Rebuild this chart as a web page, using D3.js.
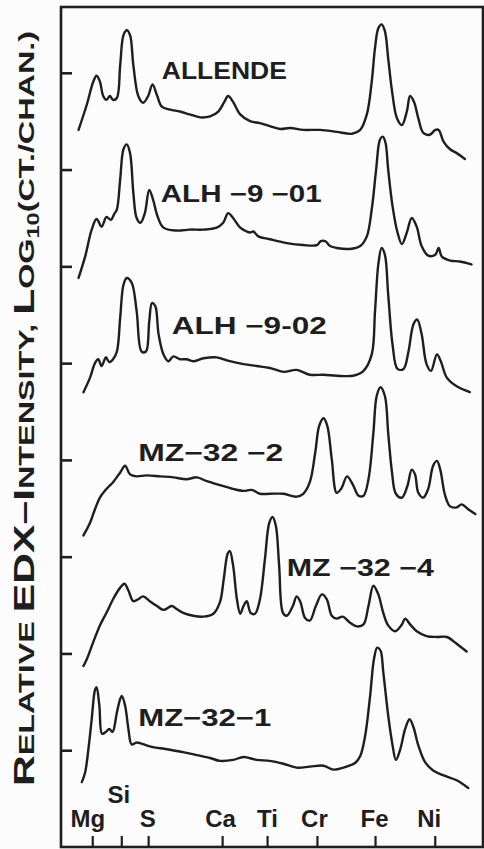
<!DOCTYPE html>
<html>
<head>
<meta charset="utf-8">
<script src="https://cdn.jsdelivr.net/npm/d3@7"></script>
<style>
  body { margin: 0; background: #fcfcfc; }
  svg { display: block; }
  text { font-family: "Liberation Sans", Arial, sans-serif; fill: #1e1e1e; }
</style>
</head>
<body>
<div id="chart"></div>
<script>
// energy (keV) and log10 intensity (offset per spectrum, decades)
var allendeKeV = [1.02,1.17,1.29,1.35,1.41,1.47,1.53,1.59,1.65,1.72,1.78,1.84,1.90,1.96,2.02,2.11,2.20,2.29,2.37,2.45,2.54,2.69,2.87,3.05,3.24,3.42,3.57,3.68,3.75,3.84,3.97,4.15,4.33,4.51,4.70,4.88,5.12,5.43,5.73,6.01,6.16,6.28,6.37,6.43,6.49,6.55,6.61,6.67,6.74,6.83,6.92,7.01,7.07,7.14,7.22,7.31,7.43,7.53,7.59,7.68,7.80,7.92,8.07];
var allendeLog = [6.41,6.67,6.91,6.97,6.91,6.76,6.72,6.76,6.72,6.74,7.08,7.39,7.44,7.39,7.08,6.76,6.69,6.76,6.88,6.77,6.65,6.62,6.60,6.57,6.54,6.55,6.60,6.70,6.76,6.70,6.57,6.50,6.48,6.45,6.42,6.43,6.41,6.41,6.39,6.37,6.41,6.57,6.91,7.26,7.46,7.50,7.43,7.15,6.81,6.53,6.46,6.60,6.76,6.70,6.53,6.38,6.36,6.41,6.41,6.29,6.21,6.17,6.11];

var alh901KeV = [1.02,1.14,1.26,1.35,1.44,1.53,1.61,1.67,1.72,1.78,1.84,1.90,1.96,2.02,2.08,2.15,2.23,2.31,2.38,2.46,2.57,2.81,3.05,3.30,3.54,3.66,3.75,3.84,3.97,4.09,4.15,4.21,4.30,4.51,4.82,5.12,5.37,5.44,5.52,5.61,5.73,5.97,6.16,6.28,6.37,6.45,6.52,6.57,6.62,6.67,6.75,6.84,6.92,7.01,7.10,7.19,7.28,7.40,7.53,7.59,7.65,7.80,7.98,8.19];
var alh901Log = [4.88,5.10,5.38,5.49,5.41,5.51,5.48,5.54,5.59,5.90,6.21,6.26,6.17,5.76,5.50,5.45,5.55,5.79,5.69,5.52,5.40,5.37,5.38,5.38,5.40,5.45,5.55,5.50,5.40,5.36,5.35,5.36,5.31,5.28,5.24,5.22,5.22,5.26,5.26,5.21,5.19,5.18,5.21,5.31,5.59,6.00,6.31,6.34,6.28,6.00,5.62,5.35,5.23,5.35,5.50,5.41,5.21,5.11,5.12,5.19,5.10,5.06,5.05,5.02];

var alh902KeV = [1.11,1.23,1.32,1.38,1.44,1.52,1.58,1.65,1.72,1.78,1.84,1.90,1.99,2.08,2.17,2.25,2.31,2.36,2.42,2.48,2.57,2.66,2.75,2.87,2.99,3.11,3.30,3.54,3.78,4.03,4.27,4.51,4.76,5.00,5.24,5.49,5.73,6.03,6.22,6.37,6.43,6.49,6.55,6.61,6.67,6.75,6.84,6.95,7.04,7.13,7.20,7.28,7.37,7.45,7.56,7.63,7.74,7.92,8.16];
var alh902Log = [3.70,3.85,4.00,4.04,3.97,4.06,4.01,4.04,4.12,4.47,4.81,4.88,4.83,4.54,4.12,4.12,4.43,4.62,4.59,4.30,4.09,4.02,4.07,4.04,4.04,4.02,4.05,4.06,4.02,3.99,3.97,3.95,3.91,3.93,3.88,3.88,3.87,3.87,3.92,4.09,4.54,5.02,5.19,5.12,4.71,4.19,3.94,3.94,4.12,4.40,4.45,4.30,3.99,3.92,4.09,4.02,3.85,3.76,3.70];

var mz322KeV = [1.11,1.23,1.32,1.41,1.53,1.65,1.78,1.87,1.96,2.08,2.26,2.51,2.75,2.99,3.18,3.36,3.60,3.84,4.03,4.18,4.33,4.51,4.76,5.00,5.12,5.24,5.34,5.41,5.49,5.56,5.64,5.73,5.82,5.92,6.02,6.13,6.22,6.31,6.40,6.46,6.53,6.61,6.67,6.74,6.81,6.92,7.02,7.10,7.16,7.22,7.31,7.40,7.49,7.56,7.62,7.71,7.80,7.92,8.01,8.13,8.26];
var mz322Log = [2.22,2.35,2.49,2.61,2.70,2.77,2.87,2.94,2.85,2.83,2.84,2.83,2.82,2.80,2.82,2.78,2.74,2.70,2.68,2.69,2.65,2.65,2.65,2.62,2.65,2.77,3.08,3.35,3.43,3.35,3.01,2.66,2.71,2.83,2.75,2.63,2.63,2.80,3.28,3.66,3.75,3.66,3.28,2.87,2.65,2.61,2.73,2.90,2.85,2.66,2.61,2.70,2.94,2.99,2.90,2.63,2.52,2.51,2.54,2.49,2.44];

var mz324KeV = [1.11,1.17,1.29,1.41,1.53,1.65,1.78,1.86,1.93,2.02,2.11,2.20,2.32,2.45,2.57,2.72,2.81,2.93,3.11,3.30,3.48,3.60,3.67,3.74,3.78,3.84,3.91,3.97,4.03,4.09,4.16,4.24,4.33,4.42,4.50,4.56,4.62,4.68,4.75,4.82,4.93,5.00,5.07,5.15,5.24,5.35,5.46,5.55,5.64,5.73,5.84,5.97,6.10,6.22,6.31,6.40,6.49,6.58,6.67,6.80,6.92,6.98,7.07,7.19,7.37,7.56,7.74,7.92,8.10];
var mz324Log = [0.87,0.94,1.12,1.29,1.42,1.56,1.68,1.72,1.65,1.54,1.56,1.59,1.54,1.49,1.45,1.49,1.46,1.42,1.39,1.38,1.41,1.53,1.77,2.03,2.06,1.91,1.56,1.41,1.49,1.54,1.42,1.41,1.56,1.97,2.35,2.41,2.32,1.91,1.42,1.39,1.49,1.59,1.53,1.37,1.34,1.49,1.61,1.56,1.39,1.36,1.38,1.32,1.28,1.30,1.49,1.70,1.61,1.42,1.29,1.23,1.30,1.36,1.30,1.23,1.18,1.17,1.17,1.10,1.02];

var mz321KeV = [1.08,1.14,1.20,1.26,1.32,1.35,1.40,1.45,1.52,1.58,1.64,1.72,1.78,1.81,1.87,1.93,1.99,2.08,2.32,2.63,2.93,3.18,3.42,3.60,3.84,4.03,4.27,4.51,4.76,5.00,5.24,5.49,5.67,5.85,6.07,6.16,6.25,6.34,6.41,6.47,6.53,6.58,6.67,6.75,6.81,6.89,6.98,7.06,7.13,7.22,7.34,7.49,7.68,7.92,8.13];
var mz321Log = [-0.33,-0.23,0.01,0.32,0.62,0.65,0.46,0.17,0.19,0.22,0.19,0.39,0.53,0.56,0.46,0.22,0.06,0.08,0.04,0.01,-0.02,-0.05,-0.08,-0.11,-0.10,-0.07,-0.10,-0.11,-0.14,-0.18,-0.17,-0.16,-0.20,-0.18,-0.13,-0.06,0.15,0.56,0.94,1.06,1.03,0.81,0.36,0.05,-0.10,0.01,0.22,0.32,0.24,0.05,-0.12,-0.21,-0.26,-0.31,-0.39];

var sampleNames = ["ALLENDE", "ALH \u22129 \u221201", "ALH \u22129-02", "MZ\u221232 \u22122", "MZ \u221232 \u22124", "MZ\u221232\u22121"];
var elementNames = ["Mg", "Si", "S", "Ca", "Ti", "Cr", "Fe", "Ni"];
var elementKeV = [1.27, 1.80, 2.29, 3.64, 4.46, 5.37, 6.43, 7.52];
var decadeTicks = [0, 1, 2, 3, 4, 5, 6, 7];

var spectra = [
  d3.zip(allendeKeV, allendeLog),
  d3.zip(alh901KeV, alh901Log),
  d3.zip(alh902KeV, alh902Log),
  d3.zip(mz322KeV, mz322Log),
  d3.zip(mz324KeV, mz324Log),
  d3.zip(mz321KeV, mz321Log)
];

const width = 484;
const height = 849;
const margin = {top: 7, right: 1, bottom: 2, left: 61};
const ink = "#1e1e1e";

// label anchors, in data units, and their printed widths
var labelPos = [[2.54, 6.94, 125], [2.52, 5.66, 161], [2.72, 4.30, 155],
                [2.11, 2.99, 145], [4.82, 1.80, 147], [2.11, 0.25, 133]];

var svg = d3.select("#chart").append("svg")
  .attr("width", width)
  .attr("height", height);

var x = d3.scaleLinear()
  .domain([0.7, 8.4])
  .range([margin.left, width - margin.right]);

var y = d3.scaleLinear()
  .domain([-1, 7.68])
  .range([height - margin.bottom, margin.top]);

/* frame */
svg.append("rect")
  .attr("x", margin.left)
  .attr("y", margin.top)
  .attr("width", width - margin.right - margin.left)
  .attr("height", height - margin.bottom - margin.top)
  .attr("fill", "none")
  .attr("stroke", ink)
  .attr("stroke-width", 2.6);

/* left ticks, one per decade */
var yAxis = svg.append("g")
  .attr("transform", `translate(${margin.left}, 0)`)
  .call(d3.axisRight(y).tickValues(decadeTicks).tickSize(11).tickFormat(""));
yAxis.select(".domain").remove();
yAxis.selectAll("line").attr("stroke", ink).attr("stroke-width", 2.6);

/* bottom ticks with element names */
var labelNudge = [[-5, 0], [-3, -24], [-1, 0], [-2, 0], [0, 0], [-3, 0], [-1, 0], [-6, 0]];
var xAxis = svg.append("g")
  .attr("transform", `translate(0, ${height - margin.bottom})`)
  .call(d3.axisTop(x).tickValues(elementKeV).tickSize(11).tickPadding(9)
    .tickFormat((d, i) => elementNames[i]));
xAxis.select(".domain").remove();
xAxis.selectAll("line").attr("stroke", ink).attr("stroke-width", 2.2);
xAxis.selectAll("text")
  .attr("font-size", 24)
  .attr("font-weight", "bold")
  .attr("fill", ink)
  .attr("dx", (d, i) => labelNudge[i][0])
  .attr("dy", (d, i) => labelNudge[i][1]);

/* spectra */
var line = d3.line()
  .x(d => x(d[0]))
  .y(d => y(d[1]))
  .curve(d3.curveCatmullRom.alpha(0.5));

svg.append("g")
  .selectAll("path")
  .data(spectra).enter()
  .append("path")
  .attr("d", line)
  .attr("fill", "none")
  .attr("stroke", ink)
  .attr("stroke-width", 2.4)
  .attr("stroke-linejoin", "round")
  .attr("stroke-linecap", "round");

/* sample names */
svg.append("g")
  .selectAll("text")
  .data(sampleNames).enter()
  .append("text")
  .attr("x", (d, i) => x(labelPos[i][0]))
  .attr("y", (d, i) => y(labelPos[i][1]))
  .attr("font-size", 24)
  .attr("font-weight", "bold")
  .attr("textLength", (d, i) => labelPos[i][2])
  .attr("lengthAdjust", "spacingAndGlyphs")
  .text(d => d);

/* y title with small caps */
var title = svg.append("text")
  .attr("transform", "translate(34, 786) rotate(-90)")
  .attr("font-weight", "bold")
  .attr("textLength", 755)
  .attr("lengthAdjust", "spacingAndGlyphs");

var big = 29, small = 22;
[["R", big], ["ELATIVE ", small], ["EDX", big], ["\u2013", big], ["I", big],
 ["NTENSITY, ", small], ["L", big], ["OG", small]].forEach(function(p) {
  title.append("tspan").attr("font-size", p[1]).text(p[0]);
});
title.append("tspan").attr("font-size", 16).attr("dy", 5).text("10");
title.append("tspan").attr("font-size", small).attr("dy", -5).text("(CT./CHAN.)");
</script>
</body>
</html>
